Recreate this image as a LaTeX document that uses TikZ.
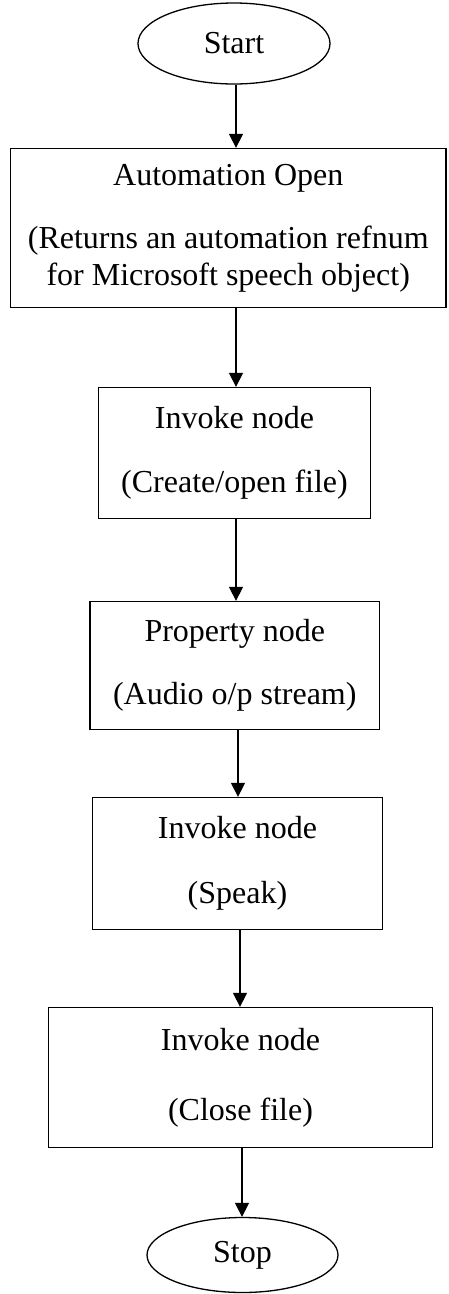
\documentclass[tikz,border=0pt]{standalone}
\usepackage{fontspec}
\setmainfont{Liberation Serif}
\usetikzlibrary{shapes.geometric,arrows.meta}
\begin{document}
\begin{tikzpicture}[x=1pt,y=-1pt,
  every node/.style={font=\fontsize{32}{37}\selectfont, align=center, inner sep=0pt},
  box/.style={draw, line width=1.3pt, rectangle},
  oval/.style={draw, line width=1.3pt, ellipse},
  arr/.style={line width=1.3pt, -{Triangle[length=14pt,width=14pt]}}]
\useasboundingbox (0,0) rectangle (448,1294);
\node[oval, minimum width=192, minimum height=81] (start) at (234,43.5) {Start};
\node[box, minimum width=435.5, minimum height=159] (auto) at (228.25,228) {Automation Open\\[26pt](Returns an automation refnum\\for Microsoft speech object)};
\node[box, minimum width=272, minimum height=131] (inv1) at (234.5,453) {Invoke node\\[27pt](Create/open file)};
\node[box, minimum width=289.5, minimum height=128] (prop) at (234.75,665.5) {Property node\\[26pt](Audio o/p stream)};
\node[box, minimum width=290, minimum height=132] (speak) at (237.5,863.5) {Invoke node\\[28pt](Speak)};
\node[box, minimum width=384, minimum height=140] (close) at (240.5,1077.5) {Invoke node\\[33pt](Close file)};
\node[oval, minimum width=191, minimum height=75] (stop) at (242.5,1255) {Stop};
\draw[arr] (start.south -| 236,0) -- (auto.north -| 236,0);
\draw[arr] (auto.south -| 236,0) -- (inv1.north -| 236,0);
\draw[arr] (inv1.south -| 236,0) -- (prop.north -| 236,0);
\draw[arr] (prop.south -| 238,0) -- (speak.north -| 238,0);
\draw[arr] (speak.south -| 240,0) -- (close.north -| 240,0);
\draw[arr] (close.south -| 242,0) -- (stop.north -| 242,0);
\end{tikzpicture}
\end{document}
